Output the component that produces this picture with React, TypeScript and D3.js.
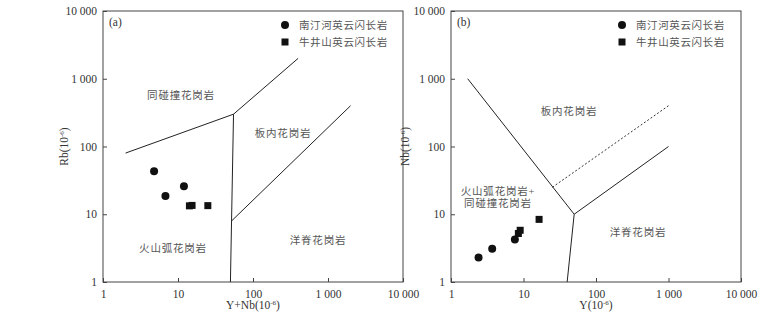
import * as d3 from 'd3'
import { useEffect, useRef } from 'react'

// sample data
const nanCircleA = [[4.8, 43], [6.8, 18.6], [12, 26]]
const niuSquareA = [[14.2, 13.3], [15.4, 13.5], [25, 13.4]]
const nanCircleB = [[2.4, 2.3], [3.7, 3.1], [7.6, 4.25]]
const niuSquareB = [[8.5, 5.2], [9, 5.8], [16.4, 8.4]]

// discrimination boundaries (Pearce 1984)
const linesA = [
    [[2, 80], [55, 300], [400, 2000]],
    [[55, 300], [50, 1]],
    [[52, 8], [2000, 400]],
]
const linesB = [
    [[1.7, 1000], [50, 10], [1000, 100]],
    [[50, 10], [40, 1]],
]
const dashedB = [[25, 25], [1000, 400]]

const tickValues = [1, 10, 100, 1000, 10000]
const tickLabels = ['1', '10', '100', '1 000', '10 000']
const legendNames = ['南汀河英云闪长岩', '牛井山英云闪长岩']

const serif = '"Times New Roman","Liberation Serif","DejaVu Serif",serif'
const cjk = '"Times New Roman","Liberation Serif","Noto Sans CJK SC",serif'

type Panel = {
    left: number, right: number, tag: string,
    xName: string, yName: string,
    circles: number[][], squares: number[][],
    lines: number[][][], dashed?: number[][],
    regions: { t: string[], x: number, y: number }[],
    yTitleX: number, legendX: number
}

const panels: Panel[] = [
    {
        left: 103, right: 403, tag: '(a)', xName: 'Y+Nb', yName: 'Rb',
        circles: nanCircleA, squares: niuSquareA, lines: linesA,
        regions: [
            { t: ['同碰撞花岗岩'], x: 181, y: 95 },
            { t: ['板内花岗岩'], x: 283, y: 133 },
            { t: ['火山弧花岗岩'], x: 173, y: 248 },
            { t: ['洋脊花岗岩'], x: 318, y: 240 },
        ],
        yTitleX: 68, legendX: 285
    },
    {
        left: 451, right: 741, tag: '(b)', xName: 'Y', yName: 'Nb',
        circles: nanCircleB, squares: niuSquareB, lines: linesB, dashed: dashedB,
        regions: [
            { t: ['板内花岗岩'], x: 569, y: 111 },
            { t: ['火山弧花岗岩+', '同碰撞花岗岩'], x: 498, y: 191 },
            { t: ['洋脊花岗岩'], x: 638, y: 232 },
        ],
        yTitleX: 409, legendX: 622
    }
]

const top = 11
const bottom = 282

export default function App() {
    const svgRef = useRef(null) as any

    useEffect(() => {
        const svg = d3.select(svgRef.current)
        svg.selectAll('*').remove()

        panels.forEach((p) => {
            const x = d3.scaleLog().domain([1, 10000]).range([p.left, p.right])
            const y = d3.scaleLog().domain([1, 10000]).range([bottom, top])
            const g = svg.append('g')

            // frame
            g.append('rect')
                .attr('x', p.left).attr('y', top)
                .attr('width', p.right - p.left).attr('height', bottom - top)
                .attr('fill', 'none').attr('stroke', '#444').attr('stroke-width', 1)

            const xAxis = d3.axisBottom(x).tickValues(tickValues)
                .tickSize(-4).tickPadding(8)
                .tickFormat((d: any, i: number) => tickLabels[i])
            const yAxis = d3.axisLeft(y).tickValues(tickValues)
                .tickSize(-4).tickPadding(6)
                .tickFormat((d: any, i: number) => tickLabels[i])

            g.append('g').attr('transform', `translate(0,${bottom})`).call(xAxis)
            g.append('g').attr('transform', `translate(${p.left},0)`).call(yAxis)

            g.selectAll('.domain').remove()
            g.selectAll('.tick line').attr('stroke', '#444')
            g.selectAll('.tick text')
                .attr('fill', '#333')
                .style('font-family', serif)
                .style('font-size', '11.5px')

            // axis titles
            const xt = g.append('text')
                .attr('x', (p.left + p.right) / 2)
                .attr('y', 309)
                .attr('text-anchor', 'middle')
                .attr('fill', '#333')
                .style('font-family', serif).style('font-size', '11.5px')
            xt.append('tspan').text(p.xName + '(10')
            xt.append('tspan').attr('dy', -4).style('font-size', '7px').text('-6')
            xt.append('tspan').attr('dy', 4).text(')')

            const yt = g.append('text')
                .attr('transform', `translate(${p.yTitleX},${(top + bottom) / 2}) rotate(-90)`)
                .attr('text-anchor', 'middle')
                .attr('fill', '#333')
                .style('font-family', serif).style('font-size', '11.5px')
            yt.append('tspan').text(p.yName + '(10')
            yt.append('tspan').attr('dy', -4).style('font-size', '7px').text('-6')
            yt.append('tspan').attr('dy', 4).text(')')

            // boundaries
            const line = d3.line().x((d: any) => x(d[0])).y((d: any) => y(d[1]))
            p.lines.forEach((l) => {
                g.append('path').attr('d', line(l as any))
                    .attr('fill', 'none').attr('stroke', '#222').attr('stroke-width', 1)
            })
            if (p.dashed) {
                g.append('path').attr('d', line(p.dashed as any))
                    .attr('fill', 'none').attr('stroke', '#333').attr('stroke-width', 1)
                    .attr('stroke-dasharray', '2,2')
            }

            // region names
            p.regions.forEach((r) => {
                r.t.forEach((s, i) => {
                    g.append('text')
                        .attr('x', r.x).attr('y', r.y + i * 12 + 4)
                        .attr('text-anchor', 'middle')
                        .attr('fill', '#555')
                        .style('font-family', cjk).style('font-size', '10.5px')
                        .style('letter-spacing', '0.8px')
                        .text(s)
                })
            })

            // panel tag
            g.append('text').attr('x', p.left + 6).attr('y', 26)
                .attr('fill', '#333')
                .style('font-family', serif).style('font-size', '11.5px')
                .text(p.tag)

            // data
            g.selectAll('.c').data(p.circles).join('circle')
                .attr('cx', (d: any) => x(d[0])).attr('cy', (d: any) => y(d[1]))
                .attr('r', 4).attr('fill', '#111')
            g.selectAll('.s').data(p.squares).join('rect')
                .attr('x', (d: any) => x(d[0]) - 3.5).attr('y', (d: any) => y(d[1]) - 3.5)
                .attr('width', 7).attr('height', 7).attr('fill', '#111')

            // legend
            legendNames.forEach((name, i) => {
                const ly = 25 + i * 17
                if (i === 0) {
                    g.append('circle').attr('cx', p.legendX).attr('cy', ly).attr('r', 4).attr('fill', '#111')
                } else {
                    g.append('rect').attr('x', p.legendX - 3.5).attr('y', ly - 3.5)
                        .attr('width', 7).attr('height', 7).attr('fill', '#111')
                }
                g.append('text').attr('x', p.legendX + 14).attr('y', ly + 4)
                    .attr('fill', '#555')
                    .style('font-family', cjk).style('font-size', '10.5px')
                    .style('letter-spacing', '0.6px')
                    .text(name)
            })
        })
    }, [])

    return (
        <div style={{ position: 'absolute', left: 0, top: 0, background: '#fff' }}>
            <svg ref={svgRef} width={780} height={316} style={{ display: 'block' }} />
        </div>
    )
}
